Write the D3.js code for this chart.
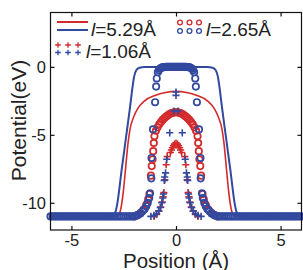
<!DOCTYPE html>
<html lang="en">
<head>
<meta charset="UTF-8">
<title>Potential</title>
<style>
  body { margin: 0; background: #fff; }
  text { font-family: "Liberation Sans", Arial, sans-serif; }
</style>
</head>
<body>
<svg></svg>
<script src="https://cdn.jsdelivr.net/npm/d3@7/dist/d3.min.js"></script>
<script>
// l = 5.29 A, solid lines
var redLine = [[-6,-11],[-2.85,-11],[-2.72,-10.85],[-2.62,-10.3],[-2.52,-9.2],[-2.4,-7.3],[-2.3,-5.7],[-2.2,-4.6],[-2.0,-3.6],[-1.8,-3.0],[-1.5,-2.5],[-1.0,-2.1],[-0.5,-1.88],[0,-1.8],
  [0.5,-1.88],[1.0,-2.1],[1.5,-2.5],[1.8,-3.0],[2.0,-3.6],[2.2,-4.6],[2.3,-5.7],[2.4,-7.3],[2.52,-9.2],[2.62,-10.3],[2.72,-10.85],[2.85,-11],[6,-11]];
var blueLine = [[-6,-11],[-3.2,-11],[-3.05,-10.97],[-2.95,-10.85],[-2.87,-10.55],[-2.8,-10],[-2.6,-7.6],[-2.4,-5.3],[-2.2,-3.0],[-2.08,-1.5],[-2.0,-0.7],[-1.9,-0.25],[-1.75,-0.07],[-1.5,-0.01],[0,0],
  [1.5,-0.01],[1.75,-0.07],[1.9,-0.25],[2.0,-0.7],[2.08,-1.5],[2.2,-3.0],[2.4,-5.3],[2.6,-7.6],[2.8,-10],[2.87,-10.55],[2.95,-10.85],[3.05,-10.97],[3.2,-11],[6,-11]];

// l = 2.65 A, circles
var redCircles = [[-2.0,-11],[-1.85,-10.9],[-1.7,-10.75],[-1.55,-10.5],[-1.42,-10.15],[-1.33,-9.75],[-1.27,-9.35],[-1.2,-8.0],[-1.16,-7.3],[-1.12,-6.8],[-1.09,-6.2],[-1.06,-5.6],[-1.03,-5.1],
  [-0.96,-4.7],[-0.88,-4.45],[-0.8,-4.22],[-0.72,-4.05],[-0.64,-3.9],[-0.56,-3.78],[-0.48,-3.67],[-0.4,-3.57],[-0.32,-3.48],[-0.24,-3.42],[-0.16,-3.37],[-0.08,-3.35],[0,-3.34],
  [0.08,-3.35],[0.16,-3.37],[0.24,-3.42],[0.32,-3.48],[0.4,-3.57],[0.48,-3.67],[0.56,-3.78],[0.64,-3.9],[0.72,-4.05],[0.8,-4.22],[0.88,-4.45],[0.96,-4.7],
  [1.03,-5.1],[1.06,-5.6],[1.09,-6.2],[1.12,-6.8],[1.16,-7.3],[1.2,-8.0],[1.27,-9.35],[1.33,-9.75],[1.42,-10.15],[1.55,-10.5],[1.7,-10.75],[1.85,-10.9],[2.0,-11]];
var blueCircles = [[-6.0,-11],[-5.9,-11],[-5.8,-11],[-5.7,-11],[-5.6,-11],[-5.5,-11],[-5.4,-11],[-5.3,-11],[-5.2,-11],[-5.1,-11],
  [-5.0,-11],[-4.9,-11],[-4.8,-11],[-4.7,-11],[-4.6,-11],[-4.5,-11],[-4.4,-11],[-4.3,-11],[-4.2,-11],[-4.1,-11],
  [-4.0,-11],[-3.9,-11],[-3.8,-11],[-3.7,-11],[-3.6,-11],[-3.5,-11],[-3.4,-11],[-3.3,-11],[-3.2,-11],[-3.1,-11],
  [-3.0,-11],[-2.9,-11],[-2.8,-11],[-2.7,-11],[-2.6,-11],[-2.5,-11],[-2.4,-11],[-2.3,-11],[-2.2,-11],[-2.1,-11],
  [-2.0,-11],[-1.9,-10.95],[-1.8,-10.88],[-1.7,-10.78],[-1.6,-10.62],[-1.5,-10.45],[-1.42,-10.25],[-1.35,-10.0],[-1.28,-9.65],[-1.24,-9.3],[-1.18,-8.2],[-1.17,-6.7],[-1.1,-4.6],[-1.0,-2.6],[-0.95,-1.45],[-0.92,-0.85],[-0.87,-0.4],
  [-0.82,-0.25],[-0.77,-0.14],[-0.72,-0.08],[-0.66,-0.04],[-0.6,-0.02],[-0.54,-0.01],[-0.48,0],[-0.42,0],[-0.36,0],[-0.3,0],[-0.24,0],[-0.18,0],[-0.12,0],[-0.06,0],[0,0],
  [0.06,0],[0.12,0],[0.18,0],[0.24,0],[0.3,0],[0.36,0],[0.42,0],[0.48,0],[0.54,-0.01],[0.6,-0.02],[0.66,-0.04],[0.72,-0.08],[0.77,-0.14],[0.82,-0.25],
  [0.87,-0.4],[0.92,-0.85],[0.95,-1.45],[1.0,-2.6],[1.1,-4.6],[1.17,-6.7],[1.18,-8.2],[1.24,-9.3],[1.28,-9.65],[1.35,-10.0],[1.42,-10.25],[1.5,-10.45],[1.6,-10.62],[1.7,-10.78],[1.8,-10.88],[1.9,-10.95],[2.0,-11],
  [2.1,-11],[2.2,-11],[2.3,-11],[2.4,-11],[2.5,-11],[2.6,-11],[2.7,-11],[2.8,-11],[2.9,-11],[3.0,-11],
  [3.1,-11],[3.2,-11],[3.3,-11],[3.4,-11],[3.5,-11],[3.6,-11],[3.7,-11],[3.8,-11],[3.9,-11],[4.0,-11],
  [4.1,-11],[4.2,-11],[4.3,-11],[4.4,-11],[4.5,-11],[4.6,-11],[4.7,-11],[4.8,-11],[4.9,-11],[5.0,-11],
  [5.1,-11],[5.2,-11],[5.3,-11],[5.4,-11],[5.5,-11],[5.6,-11],[5.7,-11],[5.8,-11],[5.9,-11],[6.0,-11]];

// l = 1.06 A, pluses
var redPluses = [[-1.05,-11],[-0.93,-10.85],[-0.82,-10.62],[-0.73,-10.32],[-0.66,-9.95],[-0.62,-9.55],[-0.58,-9.25],[-0.53,-8.3],[-0.47,-7.2],[-0.42,-6.6],
  [-0.27,-6.3],[-0.22,-6.12],[-0.17,-5.95],[-0.12,-5.8],[-0.07,-5.68],[0,-5.6],[0.07,-5.68],[0.12,-5.8],[0.17,-5.95],[0.22,-6.12],[0.27,-6.3],
  [0.42,-6.6],[0.47,-7.2],[0.53,-8.3],[0.58,-9.25],[0.62,-9.55],[0.66,-9.95],[0.73,-10.32],[0.82,-10.62],[0.93,-10.85],[1.05,-11]];
var bluePluses = [[-1.2,-11],[-1.05,-10.92],[-0.93,-10.8],[-0.83,-10.6],[-0.75,-10.35],[-0.68,-10.0],[-0.63,-9.65],[-0.6,-9.35],[-0.56,-8.35],[-0.54,-8.1],[-0.5,-7.8],[-0.44,-6.8],[-0.3,-4.85],[-0.1,-3.25],
  [0,-2.1],[0,-1.85],
  [0.1,-3.25],[0.3,-4.85],[0.44,-6.8],[0.5,-7.8],[0.54,-8.1],[0.56,-8.35],[0.6,-9.35],[0.63,-9.65],[0.68,-10.0],[0.75,-10.35],[0.83,-10.6],[0.93,-10.8],[1.05,-10.92],[1.2,-11]];

var xTicks = [-5, 0, 5];
var yTicks = [0, -5, -10];
var legendLabels = ["5.29", "2.65", "1.06"];

var red = "#d42a2c", blue = "#3249a0";
var width = 303, height = 270;
var plotLeft = 50.5, plotRight = 301.5, plotTop = 12.5, plotBottom = 230;

var svg = d3.select("svg").attr("width", width).attr("height", height);

var x = d3.scaleLinear().domain([-6, 6]).range([plotLeft, plotRight]);
var y = d3.scaleLinear().domain([-12, 4]).range([plotBottom, plotTop]);

var line = d3.line()
  .x(d => x(d[0]))
  .y(d => y(d[1]))
  .curve(d3.curveMonotoneX);

// lines
svg.append("path").datum(redLine)
  .attr("fill", "none").attr("stroke", red).attr("stroke-width", 1.6).attr("d", line);
svg.append("path").datum(blueLine)
  .attr("fill", "none").attr("stroke", blue).attr("stroke-width", 2).attr("d", line);

// circles
function circles(data, color) {
  svg.append("g").selectAll("circle")
    .data(data)
    .join("circle")
    .attr("cx", d => x(d[0]))
    .attr("cy", d => y(d[1]))
    .attr("r", 3.2)
    .attr("fill", "none")
    .attr("stroke", color)
    .attr("stroke-width", 1.7);
}
circles(redCircles, red);
circles(blueCircles, blue);

// pluses
function pluses(data, color) {
  svg.append("g").selectAll("path")
    .data(data)
    .join("path")
    .attr("transform", d => `translate(${x(d[0])},${y(d[1])})`)
    .attr("d", "M-3.6,0H3.6M0,-3.6V3.6")
    .attr("fill", "none")
    .attr("stroke", color)
    .attr("stroke-width", 1.6);
}
pluses(redPluses, red);
pluses(bluePluses, blue);

// frame + axes
svg.append("rect")
  .attr("x", plotLeft).attr("y", plotTop)
  .attr("width", plotRight - plotLeft).attr("height", plotBottom - plotTop)
  .attr("fill", "none").attr("stroke", "#111").attr("stroke-width", 1.2);

var fmt = d => String(d);
var gx = svg.append("g").attr("transform", `translate(0,${plotBottom})`)
  .call(d3.axisBottom(x).tickValues(xTicks).tickSize(-4).tickSizeOuter(0).tickPadding(4.5).tickFormat(fmt));
var gxt = svg.append("g").attr("transform", `translate(0,${plotTop})`)
  .call(d3.axisTop(x).tickValues(xTicks).tickSize(-4).tickSizeOuter(0).tickFormat(""));
var gy = svg.append("g").attr("transform", `translate(${plotLeft},0)`)
  .call(d3.axisLeft(y).tickValues(yTicks).tickSize(-4).tickSizeOuter(0).tickPadding(4.5).tickFormat(fmt));
var gyr = svg.append("g").attr("transform", `translate(${plotRight},0)`)
  .call(d3.axisRight(y).tickValues(yTicks).tickSize(-4).tickSizeOuter(0).tickFormat(""));

[gx, gxt, gy, gyr].forEach(function(g) {
  g.select(".domain").remove();
  g.selectAll("line").attr("stroke", "#111").attr("stroke-width", 1.2);
  g.selectAll("text")
    .attr("fill", "#222")
    .style("font-family", '"Liberation Sans", Arial, sans-serif')
    .style("font-size", "16.5px");
});

// axis titles
svg.append("text")
  .attr("x", (plotLeft + plotRight) / 2).attr("y", 267.5)
  .attr("text-anchor", "middle")
  .attr("font-size", 20.5).attr("fill", "#222")
  .text("Position (Å)");
svg.append("text")
  .attr("transform", "translate(26,120.5) rotate(-90)")
  .attr("text-anchor", "middle")
  .attr("font-size", 21).attr("fill", "#222")
  .text("Potential(eV)");

// legend
var legend = svg.append("g");
legend.append("line").attr("x1", 57).attr("x2", 88).attr("y1", 22).attr("y2", 22)
  .attr("stroke", red).attr("stroke-width", 2);
legend.append("line").attr("x1", 57).attr("x2", 88).attr("y1", 30).attr("y2", 30)
  .attr("stroke", blue).attr("stroke-width", 2);

[180, 189.5, 199].forEach(function(cx) {
  legend.append("circle").attr("cx", cx).attr("cy", 22.5).attr("r", 2.4)
    .attr("fill", "none").attr("stroke", red).attr("stroke-width", 1.3);
  legend.append("circle").attr("cx", cx).attr("cy", 31).attr("r", 2.4)
    .attr("fill", "none").attr("stroke", blue).attr("stroke-width", 1.3);
});
[58, 68, 78].forEach(function(cx) {
  legend.append("path").attr("transform", `translate(${cx},45)`).attr("d", "M-2.8,0H2.8M0,-2.8V2.8")
    .attr("stroke", red).attr("stroke-width", 1.3);
  legend.append("path").attr("transform", `translate(${cx},52.5)`).attr("d", "M-2.8,0H2.8M0,-2.8V2.8")
    .attr("stroke", blue).attr("stroke-width", 1.3);
});

var legendPos = [[91, 36], [206, 36], [86, 58]];
legendLabels.forEach(function(lab, i) {
  var t = legend.append("text")
    .attr("x", legendPos[i][0]).attr("y", legendPos[i][1])
    .attr("font-size", 19).attr("fill", "#222");
  t.append("tspan").attr("font-style", "italic").text("l");
  t.append("tspan").text("=" + lab + "Å");
});
</script>
</body>
</html>
